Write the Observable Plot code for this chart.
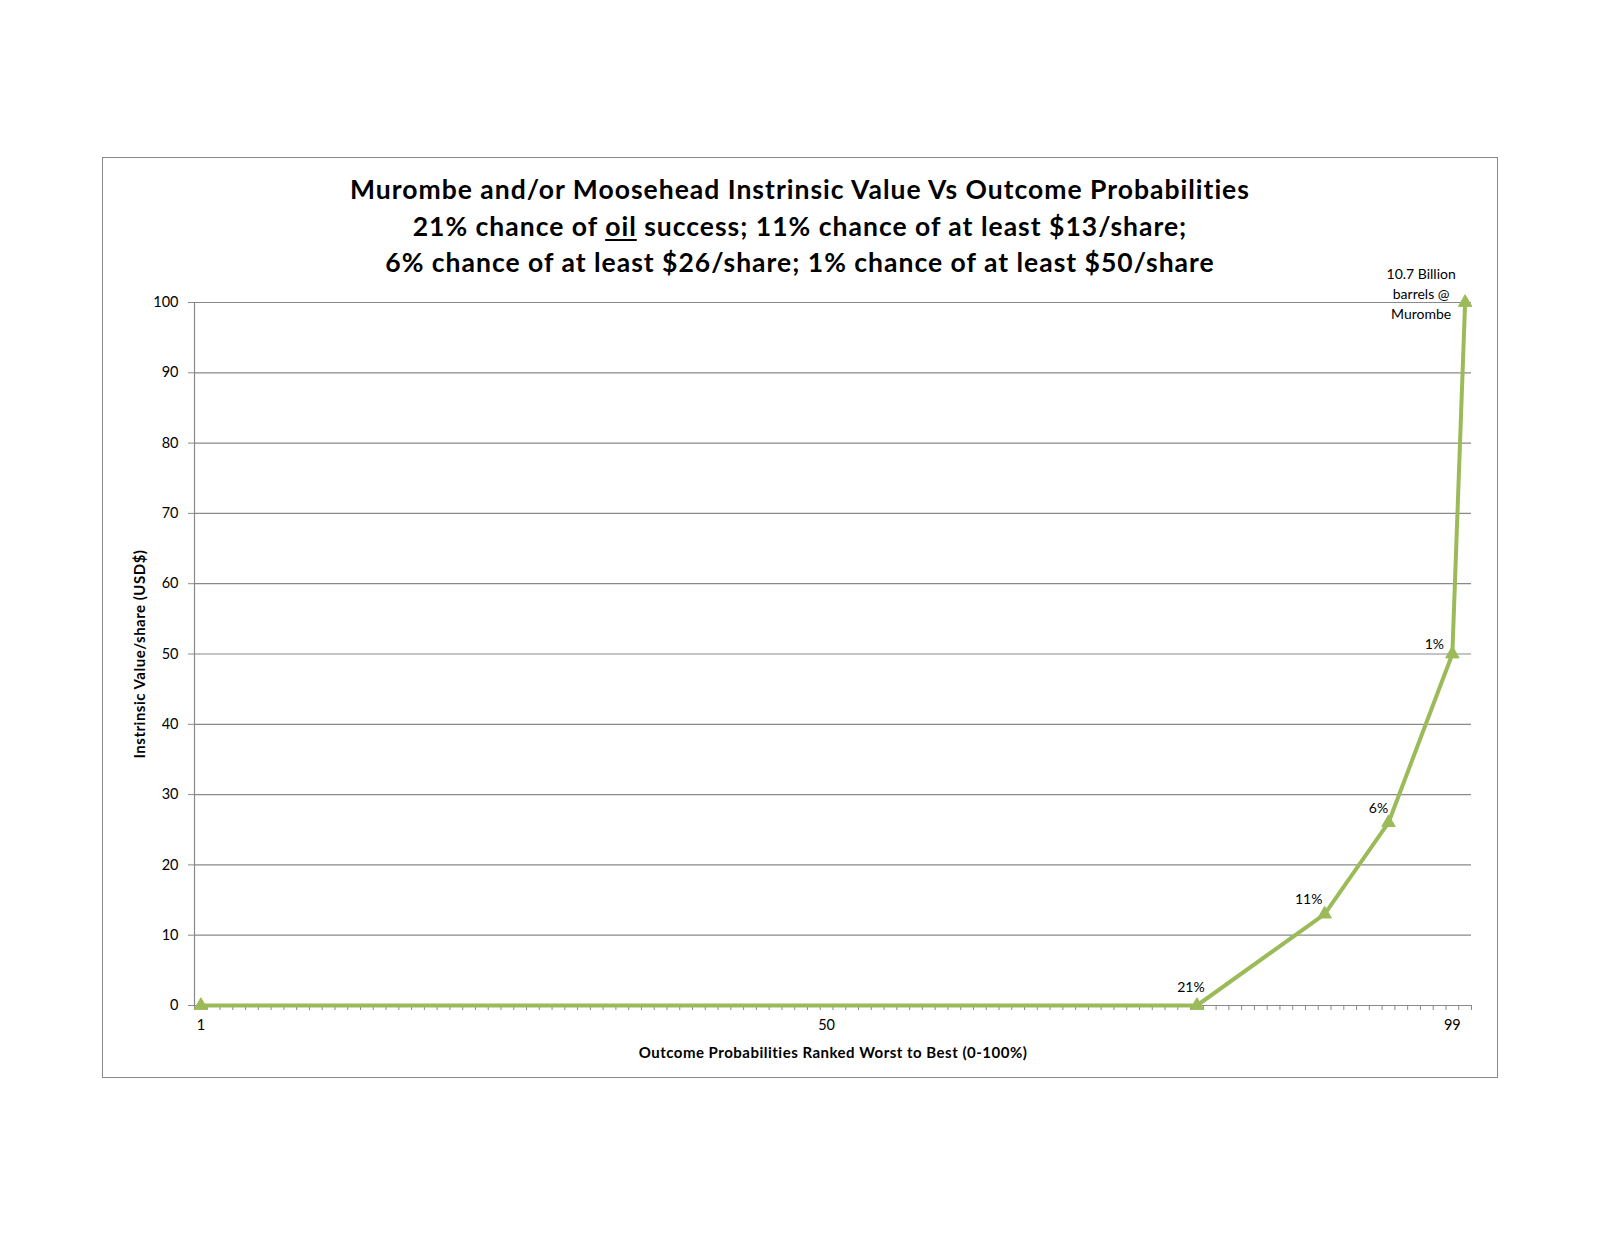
<!DOCTYPE html>
<html>
<head>
<meta charset="utf-8">
<script src="https://cdn.jsdelivr.net/npm/d3@7"></script>
<script src="https://cdn.jsdelivr.net/npm/@observablehq/plot@0.6"></script>
<style>
  html, body { margin: 0; padding: 0; background: #fff; overflow: hidden; }
  #wrap { position: relative; width: 1600px; height: 1236px; font-family: Lato, "Open Sans", sans-serif; }
  #wrap svg { position: absolute; left: 0; top: 0; }
  #frame { position: absolute; left: 102px; top: 157px; width: 1394px; height: 919px; border: 1.5px solid #898989; pointer-events: none; }
  #title { position: absolute; left: 102px; top: 171px; width: 1396px; text-align: center; font-weight: 700; font-size: 26.5px; letter-spacing: 1px; line-height: 36.5px; color: #000; }
  #title u { text-decoration-thickness: 2px; text-underline-offset: 3px; }
</style>
</head>
<body>
<div id="wrap">
  <div id="chart"></div>
  <div id="frame"></div>
  <div id="title">
    <div>Murombe and/or Moosehead Instrinsic Value Vs Outcome Probabilities</div>
    <div>21% chance of <u>oil</u> success; 11% chance of at least $13/share;</div>
    <div>6% chance of at least $26/share; 1% chance of at least $50/share</div>
  </div>
</div>
<script>
// ---- data ----
const categoryCount = 100;                       // outcome ranks 1..100
const xTickLabels = [1, 50, 99];
const yTicks = [0, 10, 20, 30, 40, 50, 60, 70, 80, 90, 100];
const rank = [1, 79, 89, 94, 99, 100];
const value = [0, 0, 13, 26, 50, 100];
const pointLabel = ["", "21%", "11%", "6%", "1%", "10.7 Billion\nbarrels @\nMurombe"];
const xTitle = "Outcome Probabilities Ranked Worst to Best (0-100%)";
const yTitle = "Instrinsic Value/share (USD$)";

// ---- styling (not data) ----
const green = "#9BBB59";
const gray = "#898989";
const labelOffset = [[0, 0], [-6, -20], [-16, -17], [-10, -16], [-18, -12], [-44, -10]];

const points = rank.map((r, i) => ({rank: r, value: value[i], label: pointLabel[i], i}));
const boundaries = d3.range(0, categoryCount + 1).map(k => k + 0.5);

const labelMarks = points.filter(d => d.label).map(d =>
  Plot.text([d], {
    x: "rank", y: "value", text: "label",
    dx: labelOffset[d.i][0], dy: labelOffset[d.i][1],
    fontSize: 14, fill: "#000", lineHeight: 1.45
  })
);

const chart = Plot.plot({
  width: 1600,
  height: 1236,
  marginLeft: 194,
  marginRight: 129,
  marginTop: 302,
  marginBottom: 231,
  style: {background: "transparent", fontFamily: "Lato, 'Open Sans', sans-serif", fontSize: "14px", color: "#000"},
  x: {domain: [0.5, categoryCount + 0.5]},
  y: {domain: [0, 100]},
  marks: [
    Plot.gridY(yTicks, {stroke: gray, strokeOpacity: 1, strokeWidth: 1.2}),
    Plot.axisY(yTicks, {tickSize: 6, tickPadding: 10, stroke: gray, strokeOpacity: 1, label: null, fontSize: 14.5, fill: "#000"}),
    Plot.axisX(boundaries, {tickSize: 5, stroke: gray, strokeOpacity: 1, text: null, label: null}),
    Plot.axisX(xTickLabels, {tickSize: 0, tickPadding: 14, label: null, fontSize: 14.5, fill: "#000", tickFormat: d => String(d)}),
    Plot.ruleX([0.5], {stroke: gray, strokeWidth: 1.2}),
    Plot.ruleY([0], {stroke: gray, strokeWidth: 1.2}),
    Plot.text([xTitle], {frameAnchor: "bottom", dy: 48, lineAnchor: "middle", textAnchor: "middle", fontWeight: "bold", fontSize: 15, fill: "#000", style: "letter-spacing:0.5px"}),
    Plot.text([yTitle], {frameAnchor: "left", dx: -54, rotate: -90, textAnchor: "middle", lineAnchor: "middle", fontWeight: "bold", fontSize: 15, fill: "#000"}),
    Plot.line(points, {x: "rank", y: "value", stroke: green, strokeWidth: 4, strokeLinejoin: "round", strokeLinecap: "round"}),
    Plot.dot(points, {x: "rank", y: "value", symbol: "triangle", r: 5, fill: green, stroke: green, strokeWidth: 1}),
    ...labelMarks
  ]
});
document.getElementById("chart").appendChild(chart);
// letter spacing for axis titles (Calibri in the original is wider than Lato)
chart.querySelectorAll("text").forEach(t => {
  if (t.textContent === xTitle || t.textContent === yTitle) t.setAttribute("letter-spacing", "0.5");
});
</script>
</body>
</html>
